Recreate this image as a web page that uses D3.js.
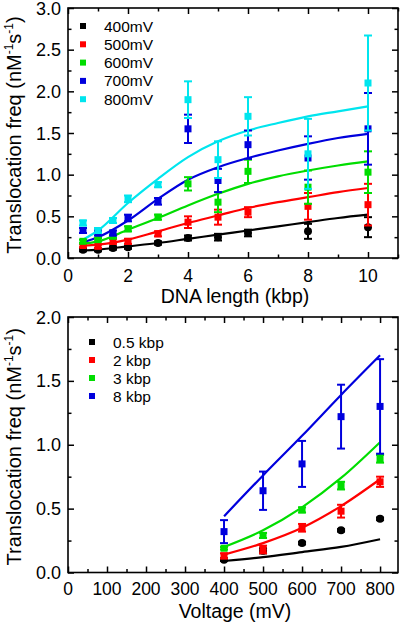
<!DOCTYPE html>
<html><head><meta charset="utf-8">
<script src="https://cdn.jsdelivr.net/npm/d3@7"></script>
<style>body{margin:0;background:#fff}svg{display:block;font-family:"Liberation Sans",Arial,sans-serif}</style>
</head><body><svg id="c" width="400" height="623"></svg>
<script>
// ---- Top panel data ----
const lengths = [0.5, 1, 1.5, 2, 3, 4, 5, 6, 8, 10];
const voltSeries = ["400mV", "500mV", "600mV", "700mV", "800mV"];
const voltColors = ["#000000", "#ff0000", "#00dd00", "#0000dd", "#00e5ee"];
const v400 = [0.10, 0.10, 0.12, 0.13, 0.18, 0.24, 0.25, 0.30, 0.32, 0.37];
const v400err = [0.02, 0.02, 0.02, 0.02, 0.02, 0.03, 0.04, 0.04, 0.09, 0.12];
const v500 = [0.15, 0.14, 0.20, 0.20, 0.29, 0.43, 0.49, 0.55, 0.62, 0.64];
const v500err = [0.02, 0.02, 0.03, 0.03, 0.03, 0.07, 0.09, 0.06, 0.16, 0.25];
const v600 = [0.20, 0.22, 0.26, 0.35, 0.49, 0.89, 0.67, 1.04, 0.85, 1.03];
const v600err = [0.02, 0.02, 0.02, 0.03, 0.03, 0.08, 0.12, 0.14, 0.20, 0.25];
const v700 = [0.33, 0.30, 0.30, 0.48, 0.68, 1.55, 0.93, 1.36, 1.20, 1.55];
const v700err = [0.03, 0.03, 0.03, 0.04, 0.04, 0.17, 0.14, 0.17, 0.26, 0.43];
const v800 = [0.42, 0.33, 0.45, 0.71, 0.88, 1.90, 1.18, 1.70, 1.25, 2.10];
const v800err = [0.03, 0.03, 0.03, 0.04, 0.03, 0.22, 0.22, 0.23, 0.42, 0.57];
const fitLengths = [0.5, 1, 2, 3, 4, 5, 6, 7, 8, 9, 10];
const fit400 = [0.09, 0.10, 0.14, 0.18, 0.23, 0.28, 0.33, 0.38, 0.43, 0.48, 0.52];
const fit500 = [0.15, 0.16, 0.22, 0.32, 0.42, 0.51, 0.60, 0.67, 0.73, 0.79, 0.84];
const fit600 = [0.17, 0.20, 0.34, 0.48, 0.63, 0.77, 0.89, 0.98, 1.05, 1.11, 1.16];
const fit700 = [0.19, 0.25, 0.45, 0.71, 0.94, 1.09, 1.20, 1.29, 1.37, 1.44, 1.49];
const fit800 = [0.22, 0.33, 0.66, 0.95, 1.21, 1.40, 1.53, 1.62, 1.70, 1.76, 1.82];
const topYTicks = ["0.0", "0.5", "1.0", "1.5", "2.0", "2.5", "3.0"];
const topXTicks = [0, 2, 4, 6, 8, 10];

// ---- Bottom panel data ----
const voltages = [400, 500, 600, 700, 800];
const lenSeries = ["0.5 kbp", "2 kbp", "3 kbp", "8 kbp"];
const lenColors = ["#000000", "#ff0000", "#00dd00", "#0000dd"];
const l05 = [0.10, 0.17, 0.23, 0.33, 0.42];
const l05err = [0.01, 0.02, 0.01, 0.01, 0.01];
const l2 = [0.13, 0.18, 0.35, 0.48, 0.71];
const l2err = [0.02, 0.03, 0.03, 0.05, 0.04];
const l3 = [0.19, 0.29, 0.49, 0.68, 0.89];
const l3err = [0.01, 0.02, 0.02, 0.03, 0.03];
const l8 = [0.32, 0.64, 0.85, 1.22, 1.30];
const l8err = [0.09, 0.15, 0.18, 0.25, 0.37];
const fitVolt = [400, 500, 600, 700, 800];
const fitL05 = [0.09, 0.12, 0.16, 0.20, 0.26];
const fitL2 = [0.14, 0.23, 0.35, 0.52, 0.73];
const fitL3 = [0.20, 0.33, 0.51, 0.74, 1.02];
const fitL8 = [0.44, 0.76, 1.07, 1.39, 1.70];
const botYTicks = ["0.0", "0.5", "1.0", "1.5", "2.0"];
const botXTicks = [0, 100, 200, 300, 400, 500, 600, 700, 800];

const svg = d3.select("#c");

function panel(cfg) {
  const g = svg.append("g");
  const x = d3.scaleLinear().domain(cfg.xDomain).range([cfg.left, cfg.right]);
  const y = d3.scaleLinear().domain(cfg.yDomain).range([cfg.bottom, cfg.top]);
  const majL = 6, minL = 3.5;
  const axes = [
    [d3.axisBottom(x), cfg.bottom, "x"],
    [d3.axisTop(x), cfg.top, "x"],
    [d3.axisLeft(y), cfg.left, "y"],
    [d3.axisRight(y), cfg.right, "y"]
  ];
  axes.forEach(([ax, pos, dim]) => {
    const minor = dim === "x" ? cfg.xMinor : cfg.yMinor;
    const major = dim === "x" ? cfg.xMajor : cfg.yMajor;
    const tr = dim === "x" ? `translate(0,${pos})` : `translate(${pos},0)`;
    const gm = g.append("g").attr("transform", tr);
    gm.call(ax.tickValues(minor).tickFormat("").tickSize(-minL).tickSizeOuter(0));
    const gM = g.append("g").attr("transform", tr);
    gM.call(ax.tickValues(major).tickFormat("").tickSize(-majL).tickSizeOuter(0));
    [gm, gM].forEach(a => { a.select(".domain").remove(); a.selectAll("line").attr("stroke", "#000").attr("stroke-width", 1.5); });
  });
  g.append("rect").attr("x", cfg.left).attr("y", cfg.top)
    .attr("width", cfg.right - cfg.left).attr("height", cfg.bottom - cfg.top)
    .attr("fill", "none").attr("stroke", "#000").attr("stroke-width", 1.6);
  cfg.xLabels.forEach(v => g.append("text").attr("x", x(v)).attr("y", cfg.bottom + cfg.xLabOff)
    .attr("text-anchor", "middle").attr("font-size", 17.5).text(v));
  cfg.yLabels.forEach(t => g.append("text").attr("x", cfg.left - 7).attr("y", Math.max(y(+t) + 6.5, 14))
    .attr("text-anchor", "end").attr("font-size", 18).text(t));
  g.append("text").attr("x", (cfg.left + cfg.right) / 2 + 2).attr("y", cfg.bottom + cfg.xTitleOff)
    .attr("text-anchor", "middle").attr("font-size", 19.5).text(cfg.xTitle);
  const yt = g.append("text").attr("transform", `translate(21,${(cfg.top + cfg.bottom) / 2 + 2}) rotate(-90)`)
    .attr("text-anchor", "middle").attr("font-size", 20);
  yt.append("tspan").text("Translocation freq (nM");
  yt.append("tspan").attr("font-size", 12).attr("dy", -8).text("-1");
  yt.append("tspan").attr("font-size", 20).attr("dy", 8).text("s");
  yt.append("tspan").attr("font-size", 12).attr("dy", -8).text("-1");
  yt.append("tspan").attr("font-size", 20).attr("dy", 8).text(")");

  const line = d3.line().x(d => x(d[0])).y(d => y(d[1])).curve(d3.curveMonotoneX);
  cfg.series.forEach(s => {
    g.append("path").attr("d", line(cfg.fitX.map((xv, j) => [xv, s.fit[j]])))
      .attr("fill", "none").attr("stroke", s.color).attr("stroke-width", 2.2);
  });
  cfg.series.forEach(s => {
    cfg.xs.forEach((xv, j) => {
      const cx = x(xv), v = s.vals[j], e = s.err[j];
      const y1 = y(v - e), y2 = y(v + e);
      g.append("line").attr("x1", cx).attr("x2", cx).attr("y1", y1).attr("y2", y2)
        .attr("stroke", s.color).attr("stroke-width", 2);
      [y1, y2].forEach(yy => g.append("line").attr("x1", cx - 4).attr("x2", cx + 4).attr("y1", yy).attr("y2", yy)
        .attr("stroke", s.color).attr("stroke-width", 2));
      if (s.circle) g.append("circle").attr("cx", cx).attr("cy", y(v)).attr("r", 4).attr("fill", s.color);
      else g.append("rect").attr("x", cx - 3.5).attr("y", y(v) - 3.5).attr("width", 7).attr("height", 7).attr("fill", s.color);
    });
  });
  cfg.series.forEach((s, i) => {
    const ly = cfg.legY + i * cfg.legDy;
    g.append("rect").attr("x", cfg.legX - 3).attr("y", ly - 3).attr("width", 6).attr("height", 6).attr("fill", s.color);
    g.append("text").attr("x", cfg.legX + 21).attr("y", ly + 5.5).attr("font-size", 15.5).text(s.name);
  });
}

const topVals = [v400, v500, v600, v700, v800];
const topErr = [v400err, v500err, v600err, v700err, v800err];
const topFit = [fit400, fit500, fit600, fit700, fit800];
panel({
  left: 68, right: 398, top: 8, bottom: 258,
  xDomain: [0, 11], yDomain: [0, 3],
  xMajor: topXTicks, xMinor: [1, 3, 5, 7, 9, 11],
  yMajor: topYTicks.map(Number), yMinor: d3.range(0.25, 3, 0.5),
  xLabels: topXTicks, yLabels: topYTicks,
  xTitle: "DNA length (kbp)", xLabOff: 24, xTitleOff: 45,
  xs: lengths, fitX: fitLengths,
  series: voltSeries.map((n, i) => ({ name: n, color: voltColors[i], vals: topVals[i], err: topErr[i], fit: topFit[i], circle: i === 0 })),
  legX: 83, legY: 26, legDy: 18.3
});

const botVals = [l05, l2, l3, l8];
const botErr = [l05err, l2err, l3err, l8err];
const botFit = [fitL05, fitL2, fitL3, fitL8];
panel({
  left: 68, right: 398, top: 317, bottom: 572.5,
  xDomain: [0, 846], yDomain: [0, 2],
  xMajor: botXTicks, xMinor: d3.range(50, 850, 100),
  yMajor: botYTicks.map(Number), yMinor: d3.range(0.25, 2, 0.5),
  xLabels: botXTicks, yLabels: botYTicks,
  xTitle: "Voltage (mV)", xLabOff: 22.5, xTitleOff: 45,
  xs: voltages, fitX: fitVolt,
  series: lenSeries.map((n, i) => ({ name: n, color: lenColors[i], vals: botVals[i], err: botErr[i], fit: botFit[i], circle: i === 0 })),
  legX: 92, legY: 342, legDy: 18
});
</script></body></html>
